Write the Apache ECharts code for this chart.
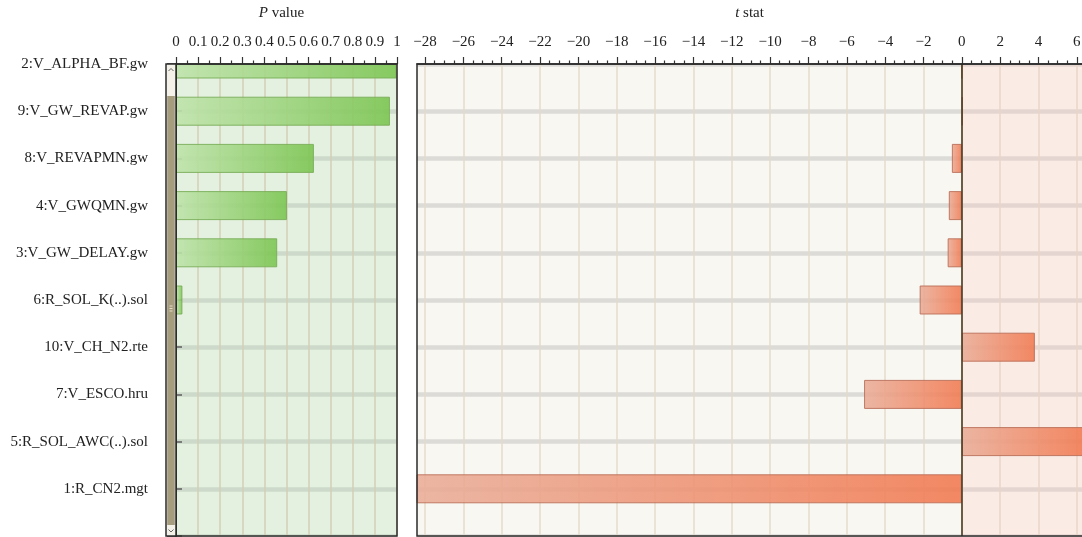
<!DOCTYPE html>
<html>
<head>
<meta charset="utf-8">
<script src="https://cdn.jsdelivr.net/npm/echarts@6/dist/echarts.min.js"></script>
<style>
  html, body { margin: 0; padding: 0; background: #ffffff; }
  #chart { width: 1082px; height: 537px; }
</style>
</head>
<body>
<div id="chart"></div>
<script>
// Parameters, top to bottom; the trailing blank slot closes the scrolled list
const categories = [
  '2:V_ALPHA_BF.gw', '9:V_GW_REVAP.gw', '8:V_REVAPMN.gw', '4:V_GWQMN.gw',
  '3:V_GW_DELAY.gw', '6:R_SOL_K(..).sol', '10:V_CH_N2.rte', '7:V_ESCO.hru',
  '5:R_SOL_AWC(..).sol', '1:R_CN2.mgt', ''
];
const pValues = [0.998, 0.968, 0.624, 0.502, 0.458, 0.029, 0, 0, 0, 0, null];
const tStats = [-0.002, 0.04, -0.52, -0.68, -0.74, -2.2, 3.81, -5.1, 6.9, -28.9, null];

// Axis ranges
const pRange = [0, 1];
const pStep = 0.1;
const tView = [-28.42, 6.32];   // visible t-stat window
const tTickRange = [-28, 6];    // labelled span
const tStep = 2;

// Layout
const FONT = 'Liberation Serif';
const W = 1082;
const TOP = 64, HEIGHT = 472;
const P_LEFT = 176, P_WIDTH = 221;
const T_LEFT = 417, T_WIDTH = 666;
const SCROLL_W = 10;
const tx = v => T_LEFT + (v - tView[0]) / (tView[1] - tView[0]) * T_WIDTH;
const T_TICK_LEFT = tx(tTickRange[0]);
const T_TICK_WIDTH = tx(tTickRange[1]) - T_TICK_LEFT;

const minus = v => (v < 0 ? '\u2212' + Math.abs(v) : String(v));
const dark = '#2b2b2b';
const labelStyle = { fontFamily: FONT, fontSize: 15, color: '#222' };
const FRONT = 5; // axes drawn above the bars

const greenFill = new echarts.graphic.LinearGradient(0, 0, 1, 0, [
  { offset: 0, color: '#bfe3ab' }, { offset: 1, color: '#7cc552' }
]);
const redFill = new echarts.graphic.LinearGradient(0, 0, 1, 0, [
  { offset: 0, color: '#e9ad98' }, { offset: 0.5, color: '#ee9374' }, { offset: 1, color: '#f17950' }
]);

// value axis helpers: one copy carries only grid lines (behind bars),
// the other carries the axis line, ticks and labels (in front)
function gridLinesAxis(gridIndex, min, max, interval, color) {
  return {
    gridIndex, type: 'value', position: 'top', min, max, interval, z: 0,
    axisLine: { show: false, onZero: false }, axisTick: { show: false },
    axisLabel: { show: false },
    splitLine: { show: true, lineStyle: { color, width: 1.5 } }
  };
}
function ticksAxis(gridIndex, min, max, interval, minorSplit, showLine, formatter) {
  return {
    gridIndex, type: 'value', position: 'top', min, max, interval, z: FRONT,
    axisLine: { show: showLine, onZero: false, lineStyle: { color: dark, width: 1.5 } },
    axisTick: { show: true, length: 7, lineStyle: { color: '#333', width: 1.2 } },
    minorTick: { show: true, splitNumber: minorSplit, length: 3.5, lineStyle: { color: '#333', width: 1.2 } },
    axisLabel: Object.assign({ margin: 14, formatter }, labelStyle),
    splitLine: { show: false }
  };
}

const chart = echarts.init(document.getElementById('chart'), null, { renderer: 'canvas' });

const option = {
  animation: false,
  backgroundColor: '#ffffff',
  grid: [
    { left: P_LEFT, top: TOP, width: P_WIDTH, height: HEIGHT, show: true,
      backgroundColor: '#e4f1e0', borderWidth: 0, outerBoundsMode: 'none' },
    { left: T_LEFT, top: TOP, width: T_WIDTH, height: HEIGHT, show: true,
      backgroundColor: '#f9f7f1', borderWidth: 0, outerBoundsMode: 'none' },
    { left: T_TICK_LEFT, top: TOP, width: T_TICK_WIDTH, height: HEIGHT, show: false, outerBoundsMode: 'none' }
  ],
  xAxis: [
    gridLinesAxis(0, pRange[0], pRange[1], pStep, '#d4ceb4'),
    ticksAxis(0, pRange[0], pRange[1], pStep, 2, true, null),
    {
      gridIndex: 1, type: 'value', position: 'top', min: tView[0], max: tView[1], z: FRONT,
      axisLine: { show: true, onZero: false, lineStyle: { color: dark, width: 1.5 } },
      axisTick: { show: false }, axisLabel: { show: false }, splitLine: { show: false }
    },
    gridLinesAxis(2, tTickRange[0], tTickRange[1], tStep, '#e3dbcb'),
    ticksAxis(2, tTickRange[0], tTickRange[1], tStep, 4, false, minus)
  ],
  yAxis: [
    {
      gridIndex: 0, type: 'category', data: categories, inverse: true, boundaryGap: false,
      position: 'left', offset: SCROLL_W, z: FRONT,
      axisLine: { show: true, lineStyle: { color: dark, width: 1.5 } },
      axisTick: { show: true, interval: 0, length: 9, lineStyle: { color: dark, width: 1.5 } },
      axisLabel: Object.assign({ margin: 18, interval: 0 }, labelStyle),
      splitLine: { show: false }
    },
    {
      gridIndex: 0, type: 'category', data: categories, inverse: true, boundaryGap: false,
      position: 'left',
      axisLine: { show: false },
      axisTick: { show: true, inside: true, interval: 0, length: 6, lineStyle: { color: '#5c5c5c', width: 1.5 } },
      axisLabel: { show: false },
      splitLine: { show: true, interval: 0, lineStyle: { color: '#cddacb', width: 4.5 } }
    },
    {
      gridIndex: 1, type: 'category', data: categories, inverse: true, boundaryGap: false,
      position: 'left',
      axisLine: { show: false },
      axisTick: { show: false }, axisLabel: { show: false },
      splitLine: { show: true, interval: 0, lineStyle: { color: '#dcdbd7', width: 4.5 } }
    },
    { gridIndex: 2, type: 'category', data: categories, inverse: true, boundaryGap: false, show: false }
  ],
  series: [
    {
      name: 'P value', type: 'bar', xAxisIndex: 0, yAxisIndex: 0,
      data: pValues, barWidth: 29, clip: true,
      itemStyle: { color: greenFill, borderColor: '#79ad58', borderWidth: 1, opacity: 0.9 },
      emphasis: { disabled: true }
    },
    {
      // positive half of the t-stat panel is tinted
      name: 'positive', type: 'line', xAxisIndex: 2, yAxisIndex: 2, data: [], z: 1,
      markArea: {
        silent: true,
        itemStyle: { color: 'rgba(255,196,190,0.24)' },
        data: [[{ xAxis: 0 }, { xAxis: tView[1] }]]
      }
    },
    {
      name: 't stat', type: 'bar', xAxisIndex: 2, yAxisIndex: 2,
      data: tStats, barWidth: 29, clip: true,
      itemStyle: { color: redFill, borderColor: '#b86c55', borderWidth: 1, opacity: 0.88 },
      emphasis: { disabled: true },
      markLine: {
        silent: true, symbol: ['none', 'none'], label: { show: false },
        lineStyle: { color: '#4a3b22', width: 1.6, type: 'solid' },
        data: [{ xAxis: 0 }]
      }
    }
  ],
  graphic: [
    // blank band above the panels: bars centred on the first row stop at the frame
    {
      type: 'rect', silent: true, z: 3,
      shape: { x: P_LEFT - SCROLL_W, y: 44, width: W - P_LEFT + SCROLL_W, height: TOP - 44 - 0.75 },
      style: { fill: '#ffffff' }
    },
    {
      type: 'text', silent: true,
      style: {
        x: (P_LEFT - SCROLL_W + P_LEFT + P_WIDTH) / 2, y: 13,
        text: '{i|P} value', fill: '#222', fontFamily: FONT, fontSize: 15,
        textAlign: 'center', textVerticalAlign: 'middle',
        rich: { i: { fontStyle: 'italic', fontFamily: FONT, fontSize: 15, fill: '#222' } }
      }
    },
    {
      type: 'text', silent: true,
      style: {
        x: T_LEFT + (W - T_LEFT) / 2, y: 13,
        text: '{i|t} stat', fill: '#222', fontFamily: FONT, fontSize: 15,
        textAlign: 'center', textVerticalAlign: 'middle',
        rich: { i: { fontStyle: 'italic', fontFamily: FONT, fontSize: 15, fill: '#222' } }
      }
    },
    // panel frames
    {
      type: 'rect', silent: true, z: 6,
      shape: { x: P_LEFT, y: TOP, width: P_WIDTH, height: HEIGHT },
      style: { fill: null, stroke: dark, lineWidth: 1.5 }
    },
    {
      type: 'rect', silent: true, z: 6,
      shape: { x: T_LEFT, y: TOP, width: T_WIDTH + 2, height: HEIGHT },
      style: { fill: null, stroke: dark, lineWidth: 1.5 }
    },
    // vertical scroll bar beside the parameter list
    {
      type: 'rect', silent: true, z: 6,
      shape: { x: P_LEFT - SCROLL_W, y: TOP, width: SCROLL_W, height: HEIGHT },
      style: { fill: '#f3f1e8', stroke: dark, lineWidth: 1.5 }
    },
    {
      type: 'rect', silent: true, z: 7,
      shape: { x: P_LEFT - SCROLL_W + 1.2, y: TOP + 32, width: SCROLL_W - 2.4, height: HEIGHT - 43 },
      style: { fill: '#a69c7e' }
    },
    {
      type: 'polyline', silent: true, z: 7,
      shape: { points: [[168.5, 71], [171, 68.5], [173.5, 71]] },
      style: { stroke: '#666', lineWidth: 1, fill: null }
    },
    {
      type: 'polyline', silent: true, z: 7,
      shape: { points: [[168.5, 529.5], [171, 532], [173.5, 529.5]] },
      style: { stroke: '#666', lineWidth: 1, fill: null }
    },
    {
      type: 'group', silent: true, z: 8,
      children: [306, 308.5, 311].map(y => ({
        type: 'line', z: 8, shape: { x1: 169.5, y1: y, x2: 172.5, y2: y },
        style: { stroke: '#e4dcc6', lineWidth: 1 }
      }))
    }
  ]
};

chart.setOption(option);
</script>
</body>
</html>
